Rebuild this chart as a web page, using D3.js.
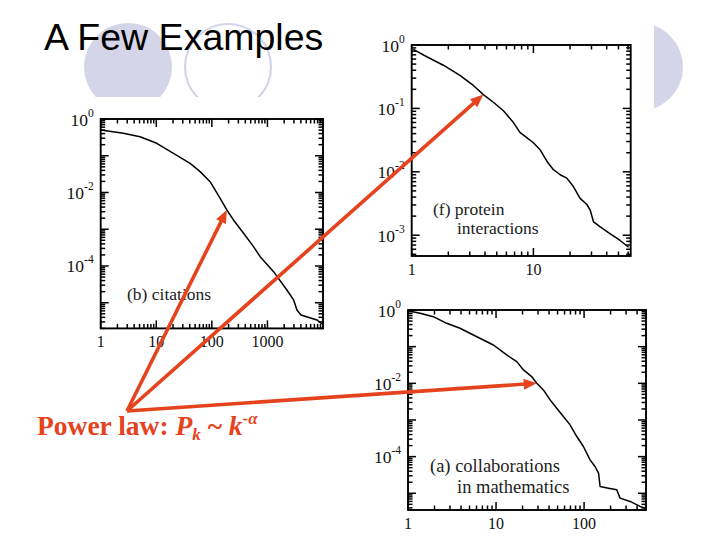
<!DOCTYPE html>
<html><head><meta charset="utf-8">
<script src="https://cdn.jsdelivr.net/npm/d3@7"></script>
<style>body{margin:0;background:#fff}svg{display:block}</style>
</head><body>
<svg id="c" width="720" height="540"></svg>
<script>
// ---------- data ----------
const citationsK = [1, 2.56, 5.1, 10.2, 20.4, 40.6, 61.5, 93, 141, 186, 245, 372, 562, 741, 1290, 2240, 2960, 3400, 4010, 7780, 9580];
const citationsP = [0.50, 0.407, 0.330, 0.218, 0.116, 0.0622, 0.0369, 0.0197, 0.00694, 0.00334, 0.00179, 7.75e-4, 3.36e-4, 1.79e-4, 7.0e-5, 2.22e-5, 1.19e-5, 6.35e-6, 4.65e-6, 3.4e-6, 2.64e-6];

const proteinK = [1.03, 1.33, 1.82, 2.49, 3.21, 3.88, 4.69, 5.67, 6.85, 7.78, 8.82, 10.0, 11.3, 12.9, 14.6, 16.6, 18.8, 21.3, 24.2, 27.5, 29.3, 31.2, 35.4, 42.8, 51.6, 60.5];
const proteinP = [0.853, 0.652, 0.480, 0.332, 0.230, 0.165, 0.125, 0.0919, 0.0598, 0.0415, 0.0345, 0.0287, 0.0225, 0.0147, 0.0108, 0.00898, 0.00794, 0.00585, 0.00381, 0.00305, 0.00248, 0.00162, 0.00135, 0.00105, 8.26e-4, 6.46e-4];

const mathK = [1.0, 1.37, 1.94, 2.75, 3.90, 5.52, 7.18, 9.33, 13.2, 17.2, 20.5, 25.4, 29.0, 34.5, 41.1, 48.9, 58.2, 69.3, 82.6, 98.2, 117, 133, 146, 152, 189, 235, 256, 333, 433, 493];
const mathP = [0.959, 0.811, 0.658, 0.433, 0.317, 0.208, 0.152, 0.111, 0.0594, 0.0391, 0.0232, 0.0153, 0.010, 0.0066, 0.00353, 0.00209, 0.00124, 7.35e-4, 3.54e-4, 1.89e-4, 8.18e-5, 5.38e-5, 3.55e-5, 1.54e-5, 1.38e-5, 1.25e-5, 7.39e-6, 6.0e-6, 4.38e-6, 3.94e-6];

const citationsXTicks = [1, 10, 100, 1000];
const citationsYExp = [0, -2, -4];
const proteinXTicks = [1, 10];
const proteinYExp = [0, -1, -2, -3];
const mathXTicks = [1, 10, 100];
const mathYExp = [0, -2, -4];

const titleText = "A Few Examples";
const citationsLabel = ["(b) citations"];
const proteinLabel = ["(f) protein", "interactions"];
const mathLabel = ["(a) collaborations", "in mathematics"];
// indexes of the data points the arrows point to
const arrowTargets = [{panel: 0, i: 9}, {panel: 1, i: 5}, {panel: 2, i: 12}];

// ---------- layout ----------
const svg = d3.select("#c");
const RED = "#e5431d";
const LAV = "#d5d5ea";
const SERIF = "Liberation Serif, Times New Roman, serif";

// decorative circles
const defs = svg.append("defs");
defs.append("clipPath").attr("id", "topclip").append("rect").attr("x", 0).attr("y", 0).attr("width", 720).attr("height", 97);
defs.append("clipPath").attr("id", "rclip").append("rect").attr("x", 654).attr("y", 0).attr("width", 66).attr("height", 200);
svg.append("circle").attr("cx", 128).attr("cy", 67).attr("r", 44).attr("fill", LAV).attr("clip-path", "url(#topclip)");
svg.append("circle").attr("cx", 228).attr("cy", 67).attr("r", 43).attr("fill", "none").attr("stroke", LAV).attr("stroke-width", 2.2).attr("clip-path", "url(#topclip)");
svg.append("circle").attr("cx", 639).attr("cy", 67).attr("r", 44).attr("fill", LAV).attr("clip-path", "url(#rclip)");

svg.append("text").attr("x", 44).attr("y", 49.5)
  .attr("font-family", "Liberation Sans, Arial, sans-serif").attr("font-size", 37.5)
  .attr("fill", "#000").text(titleText);

const panels = [
  {k: citationsK, p: citationsP, left: 100.7, right: 323, top: 119, bottom: 328.4, xDom: [1, 1e4], yDom: [2e-6, 1],
   xTicks: citationsXTicks, yExp: citationsYExp, label: citationsLabel, labelPos: [[127, 300]], labelSize: 17.5},
  {k: proteinK, p: proteinP, left: 411.7, right: 630.7, top: 45, bottom: 256, xDom: [1, 63], yDom: [4.7e-4, 1],
   xTicks: proteinXTicks, yExp: proteinYExp, label: proteinLabel, labelPos: [[433, 215], [457, 234]], labelSize: 17.5},
  {k: mathK, p: mathP, left: 408, right: 646, top: 310, bottom: 510, xDom: [1, 505], yDom: [3.5e-6, 1],
   xTicks: mathXTicks, yExp: mathYExp, label: mathLabel, labelPos: [[430, 472], [457, 493]], labelSize: 18.5}
];

function logTicks(dom) {
  const out = [];
  const d0 = Math.floor(Math.log10(dom[0])), d1 = Math.ceil(Math.log10(dom[1]));
  for (let d = d0; d <= d1; d++) for (let m = 1; m <= 9; m++) {
    const v = m * Math.pow(10, d);
    if (v >= dom[0] * 0.9999 && v <= dom[1] * 1.0001) out.push({v, major: m === 1});
  }
  return out;
}

panels.forEach(P => {
  P.x = d3.scaleLog().domain(P.xDom).range([P.left, P.right]);
  P.y = d3.scaleLog().domain(P.yDom).range([P.bottom, P.top]);
  const g = svg.append("g");
  g.append("rect").attr("x", P.left).attr("y", P.top).attr("width", P.right - P.left).attr("height", P.bottom - P.top)
    .attr("fill", "#fff").attr("stroke", "#000").attr("stroke-width", 1.9);
  const MJ = 8, MN = 4.5;
  const xt = logTicks(P.xDom), yt = logTicks(P.yDom);
  const tk = g.append("g").attr("stroke", "#000").attr("stroke-width", 1.5);
  xt.forEach(t => {
    const X = P.x(t.v), L = t.major ? MJ : MN;
    tk.append("line").attr("x1", X).attr("x2", X).attr("y1", P.bottom).attr("y2", P.bottom - L);
    tk.append("line").attr("x1", X).attr("x2", X).attr("y1", P.top).attr("y2", P.top + L);
  });
  yt.forEach(t => {
    const Y = P.y(t.v), L = t.major ? MJ : MN;
    tk.append("line").attr("x1", P.left).attr("x2", P.left + L).attr("y1", Y).attr("y2", Y);
    tk.append("line").attr("x1", P.right).attr("x2", P.right - L).attr("y1", Y).attr("y2", Y);
  });
  // x tick labels
  P.xTicks.forEach(v => {
    g.append("text").attr("x", P.x(v)).attr("y", P.bottom + 19).attr("text-anchor", "middle")
      .attr("font-family", SERIF).attr("font-size", 16).attr("fill", "#111").text(v);
  });
  // y tick labels
  P.yExp.forEach(e => {
    const t = g.append("text").attr("x", P.left - 7).attr("y", P.y(Math.pow(10, e)) + 6.5).attr("text-anchor", "end")
      .attr("font-family", SERIF).attr("font-size", 17.5).attr("fill", "#111");
    t.append("tspan").text("10");
    t.append("tspan").attr("dy", -9).attr("font-size", 11.5).text(e === 0 ? "0" : "-" + Math.abs(e));
  });
  // curve
  const pts = P.k.map((k, i) => [k, P.p[i]]);
  g.append("path").datum(pts)
    .attr("d", d3.line().x(d => P.x(d[0])).y(d => P.y(d[1])))
    .attr("fill", "none").attr("stroke", "#000").attr("stroke-width", 1.5).attr("stroke-linejoin", "round");
  // label
  P.label.forEach((s, i) => {
    g.append("text").attr("x", P.labelPos[i][0]).attr("y", P.labelPos[i][1])
      .attr("font-family", SERIF).attr("font-size", P.labelSize).attr("fill", "#222").text(s);
  });
});

// arrows
const origin = [127, 411];
const ag = svg.append("g");
arrowTargets.forEach(a => {
  const P = panels[a.panel];
  const tx = P.x(P.k[a.i]), ty = P.y(P.p[a.i]);
  const ang = Math.atan2(ty - origin[1], tx - origin[0]);
  const HL = 13, HW = 5.5;
  const bx = tx - HL * Math.cos(ang), by = ty - HL * Math.sin(ang);
  ag.append("line").attr("x1", origin[0]).attr("y1", origin[1]).attr("x2", bx + 2 * Math.cos(ang)).attr("y2", by + 2 * Math.sin(ang))
    .attr("stroke", RED).attr("stroke-width", 3.6);
  const px = -Math.sin(ang), py = Math.cos(ang);
  ag.append("polygon").attr("points", [[tx, ty], [bx + HW * px, by + HW * py], [bx - HW * px, by - HW * py]].map(p => p.join(",")).join(" "))
    .attr("fill", RED);
});

// Power law text
const pl = svg.append("text").attr("x", 37).attr("y", 435)
  .attr("font-family", SERIF).attr("font-weight", "bold").attr("font-size", 27.5)
  .attr("fill", RED);
pl.append("tspan").text("Power law: ");
pl.append("tspan").attr("font-style", "italic").text("P");
pl.append("tspan").attr("font-style", "italic").attr("font-size", 17).attr("dy", 5).text("k");
pl.append("tspan").attr("dy", -5).text(" ~ ");
pl.append("tspan").attr("font-style", "italic").text("k");
pl.append("tspan").attr("font-size", 17).attr("dy", -11).text("-");
pl.append("tspan").attr("font-style", "italic").attr("font-size", 17).text("α");
</script>
</body></html>
